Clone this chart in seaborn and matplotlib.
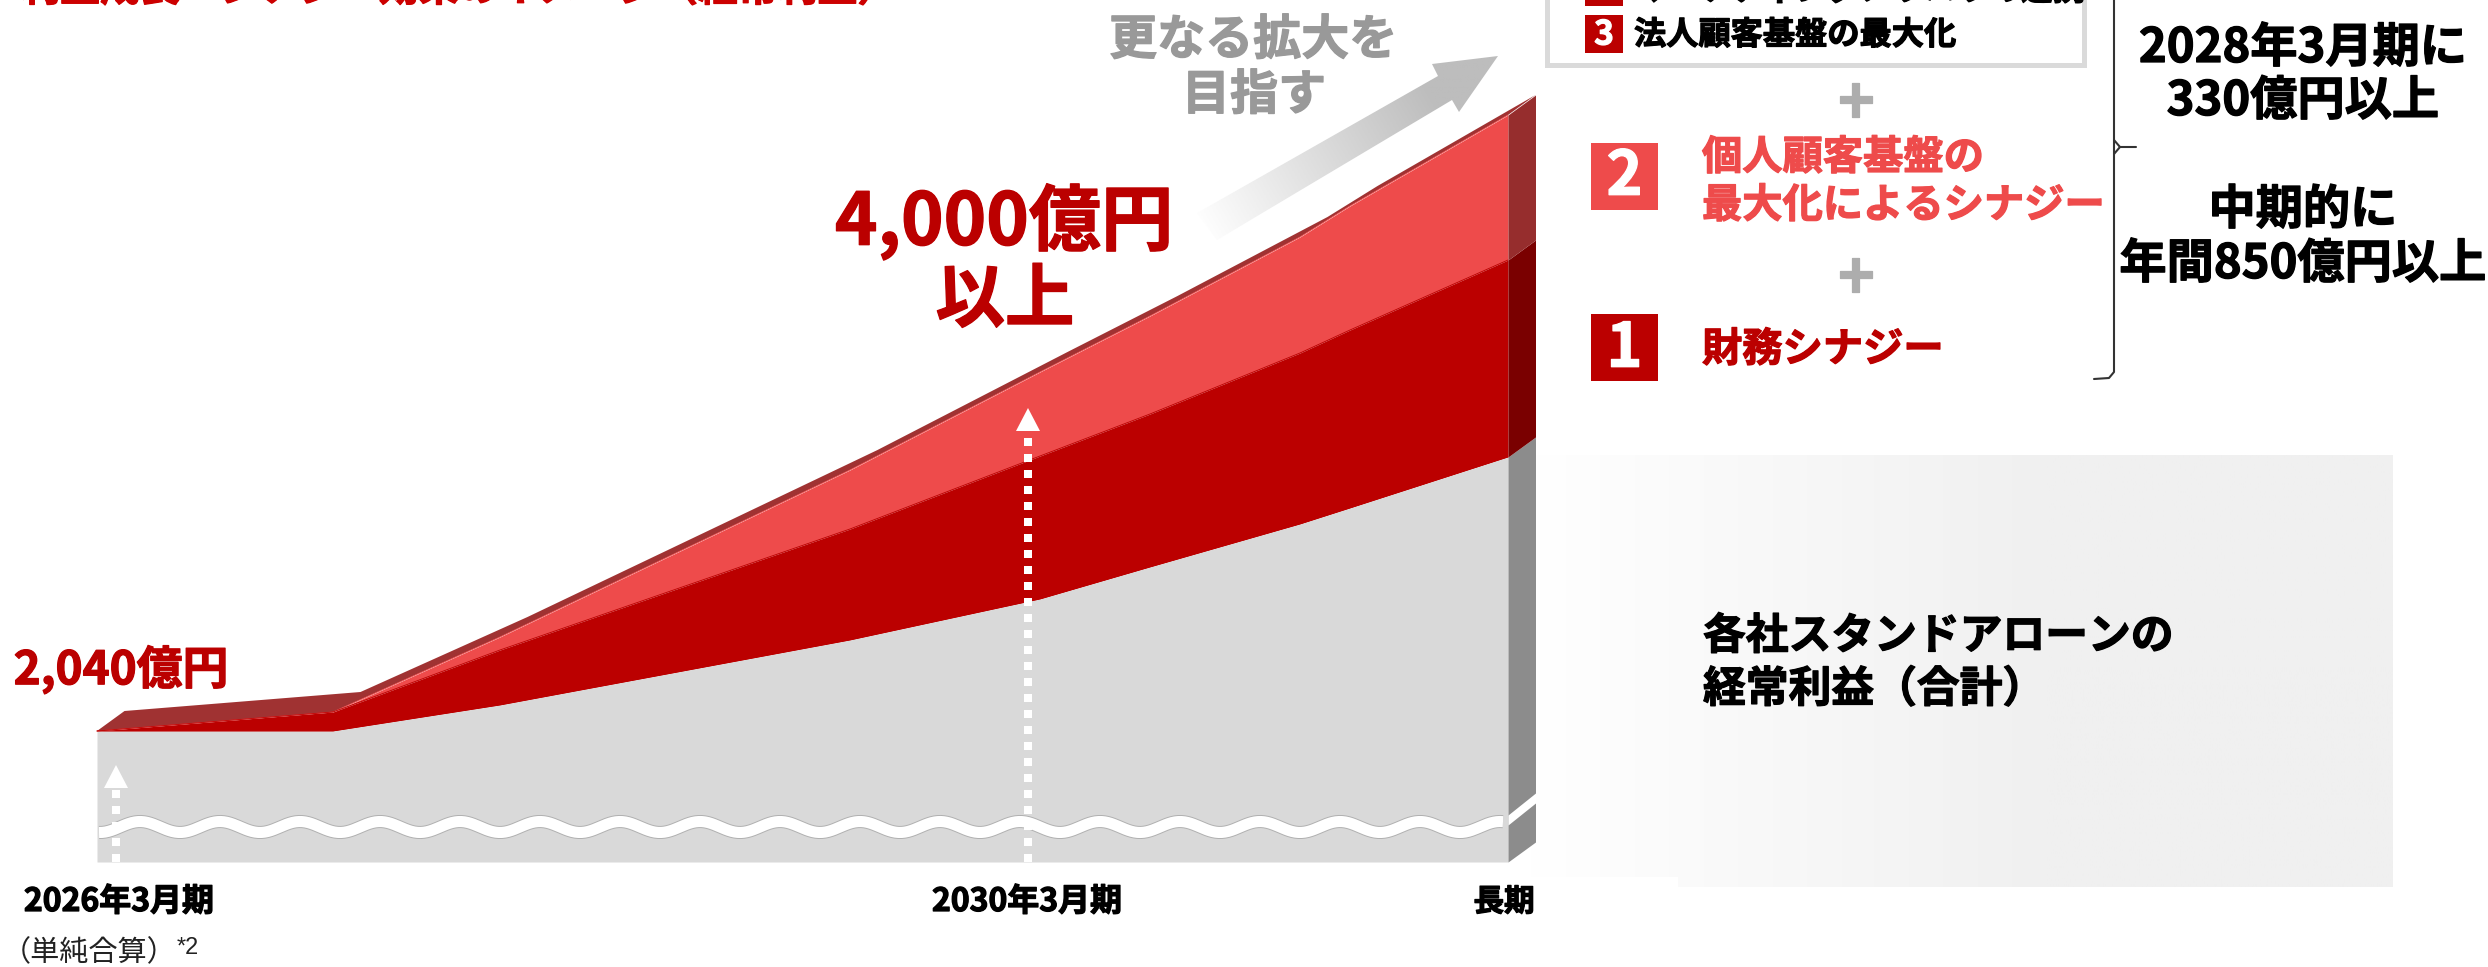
import numpy as np
import matplotlib
matplotlib.use('Agg')
import matplotlib.pyplot as plt
import matplotlib.patheffects as pe
from matplotlib.patches import Polygon, Rectangle
import seaborn as sns

# stacked layers, schematic heights above the broken baseline
x_period = [0, 236, 403, 753, 943, 1053, 1203, 1253, 1411]
standalone = [131, 131, 157, 222, 263, 295, 338, 354, 405]
financial_synergy = [0, 19, 55, 111, 143, 153, 171, 178, 197]
customer_synergy = [0, 0, 13, 59, 84, 98, 116, 124, 145]

period_labels = ['2026年3月期', '2030年3月期', '長期']
arrow_x = [19, 931]
arrow_top = [97, 454]

GREY = '#D9D9D9'
GREY_SIDE = '#8C8C8C'
RED = '#BB0000'
RED_SIDE = '#7A0000'
PINK = '#EE4B4B'
PINK_SIDE = '#962D2D'
DEPTH_X, DEPTH_Y = 27.5, 20

sns.set_theme(style='white')
plt.rcParams['font.family'] = ['Noto Sans CJK JP', 'DejaVu Sans']

fig = plt.figure(figsize=(24.88, 9.67), dpi=100)

# pixel axes for the panel and the text, chart axes on top of it
bg = fig.add_axes([0, 0, 1, 1], zorder=0)
ax = fig.add_axes([0, 0, 1, 1], zorder=1)


def put(x, y, s, size, color='black', weight='bold', ha='center', va='center'):
    t = bg.text(x, y, s, fontsize=size, color=color, fontweight=weight, ha=ha, va=va)
    if weight == 'bold':
        # the reference text is heavier than the plain bold
        t.set_path_effects([pe.withStroke(linewidth=0.9, foreground=color)])


# panel behind the grey layer
ramp = np.clip(np.linspace(0, 1, 400) / 0.6, 0, 1)[None, :]
bg.imshow(ramp, extent=(1530, 2392.5, 887, 455), cmap=matplotlib.colors.LinearSegmentedColormap.from_list('p', ['#FFFFFF', '#F0F0F0']), aspect='auto', vmin=0, vmax=1)
bg.add_patch(Rectangle((1530, 877), 148, 11, color='white', lw=0))

# gradient arrow
arrow_pts = [(1197, 213), (1438, 76), (1432, 64), (1498, 56), (1459, 112), (1452, 100), (1217, 240)]
gx, gy = np.meshgrid(np.linspace(1190, 1500, 200), np.linspace(50, 245, 200))
t = np.clip(((gx - 1197) * 291 + (226 - gy) * 170) / (291 ** 2 + 170 ** 2) / 0.8, 0, 1)
img = bg.imshow(t, extent=(1190, 1500, 245, 50), aspect='auto', vmin=0, vmax=1,
                cmap=matplotlib.colors.LinearSegmentedColormap.from_list('a', ['#FFFFFF', '#BDBDBD']))
clip = Polygon(arrow_pts, transform=bg.transData, fc='none', ec='none')
bg.add_patch(clip)
img.set_clip_path(clip)

# layers
x = np.array(x_period, dtype=float)
grey_top = np.array(standalone, dtype=float)
red_top = grey_top + np.array(financial_synergy)
pink_top = red_top + np.array(customer_synergy)

top_xy = list(zip(x, pink_top)) + list(zip(x[::-1] + DEPTH_X, pink_top[::-1] + DEPTH_Y))
ax.add_patch(Polygon(top_xy, fc='#A03232', ec='none'))
ax.fill_between(x, red_top, pink_top, color=PINK, lw=0)
ax.fill_between(x, grey_top, red_top, color=RED, lw=0)
ax.fill_between(x, 0, grey_top, color=GREY, lw=0)

sns.lineplot(x=x_period, y=pink_top, color=PINK, lw=0.6, ax=ax)
sns.lineplot(x=x_period, y=red_top, color=RED, lw=0.6, ax=ax)
sns.lineplot(x=x_period, y=grey_top, color=RED, lw=0.6, ax=ax)

# side of the block
x_side = [x[-1], x[-1] + DEPTH_X]
for low, high, col in [(0, grey_top[-1], GREY_SIDE), (grey_top[-1], red_top[-1], RED_SIDE), (red_top[-1], pink_top[-1], PINK_SIDE)]:
    ax.fill_between(x_side, [low, low + DEPTH_Y], [high, high + DEPTH_Y], color=col, lw=0)
ax.fill_between(x_side, [37, 59], [47, 69], color='white', lw=0)

# break in the axis
wave_x = np.linspace(2, 1406, 900)
wave_y = 35 + 5.5 * np.cos(2 * np.pi * (wave_x - 43) / 80)
ax.plot(wave_x, wave_y, color='#B0B0B0', lw=9.4, solid_capstyle='butt')
ax.plot(wave_x, wave_y, color='white', lw=8.0, solid_capstyle='butt')

# dotted arrows
for ax_x, ax_top in zip(arrow_x, arrow_top):
    ax.plot([ax_x, ax_x], [0, ax_top - 22], color='white', lw=5.76, linestyle=(0, (1, 1)), dash_capstyle='butt')
    ax.add_patch(Polygon([(ax_x - 12, ax_top - 23), (ax_x + 12, ax_top - 23), (ax_x, ax_top)], fc='white', ec='none'))

ax.set_xlim(-97, 2391)
ax.set_ylim(-105, 862)
ax.axis('off')

# right hand list
bg.add_patch(Rectangle((1546.5, -30), 537, 94.5, fc='none', ec='#DADADA', lw=3.6))
bg.add_patch(Rectangle((1585, -20), 38, 26, fc=RED, lw=0))
bg.add_patch(Rectangle((1585, 15), 38, 38, fc=RED, lw=0))
bg.add_patch(Rectangle((1591, 143), 67, 67, fc=PINK, lw=0))
bg.add_patch(Rectangle((1591, 314), 67, 67, fc=RED, lw=0))
put(1604, 35, '3', 24, 'white')
put(1624.5, 177, '2', 44, 'white')
put(1624.5, 349, '1', 44, 'white')
put(1634, 0, 'マーケティングノウハウの連携', 23.2, ha='left', va='baseline')
put(1634, 35, '法人顧客基盤の最大化', 23.2, ha='left')
put(1702, 158, '個人顧客基盤の', 29, PINK, ha='left')
put(1702, 206, '最大化によるシナジー', 29, PINK, ha='left')
put(1702, 350, '財務シナジー', 29, RED, ha='left')
put(1856, 105, '+', 46, '#ADADAD')
put(1856, 280, '+', 46, '#ADADAD')

# brace
bg.plot([2114, 2114, 2109, 2094], [-5, 372, 378, 379], color='#333333', lw=1.5)
bg.plot([2114, 2120, 2136], [140, 147, 147], color='#333333', lw=1.5)
bg.plot([2114, 2120], [154, 147], color='#333333', lw=1.5)

put(2303, 48, '2028年3月期に', 34)
put(2303, 101, '330億円以上', 34)
put(2303, 210, '中期的に', 34)
put(2303, 264, '年間850億円以上', 34)

# chart labels
put(459, 1, '利益成長・シナジー効果のイメージ（経常利益）', 28.7, '#CC0000', va='baseline')
put(1253, 40, '更なる拡大を', 34.6, '#999999')
put(1254, 95, '目指す', 34.6, '#999999')
put(1004, 222, '4,000億円', 52, RED)
put(1005, 301, '以上', 50, RED)
put(121, 670, '2,040億円', 33, RED)
put(1703, 636, '各社スタンドアローンの', 30.8, ha='left')
put(1703, 689, '経常利益（合計）', 30.8, ha='left')
put(119, 902, period_labels[0], 23)
put(1027, 902, period_labels[1], 23)
put(1504, 902, period_labels[2], 22)
put(2, 953, '（単純合算）', 21, '#222222', weight='normal', ha='left')
bg.text(177, 948, '*2', fontsize=17, color='#222222', family='Liberation Sans', ha='left', va='center')

bg.set_xlim(0, 2488)
bg.set_ylim(967, 0)
bg.axis('off')

fig.savefig('out.png', dpi=100, facecolor='white')
